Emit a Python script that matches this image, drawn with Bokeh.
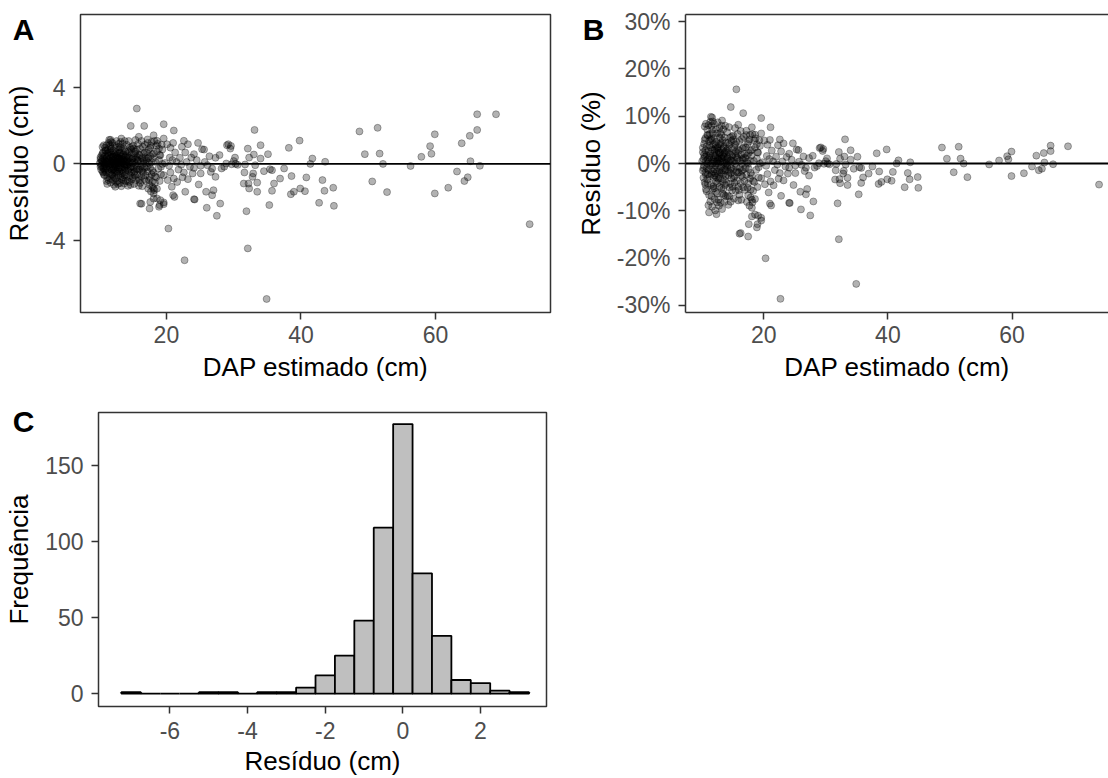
from bokeh.plotting import figure
from bokeh.models import Range1d, Span, LinearAxis, FixedTicker, CustomJSTickFormatter
from bokeh.layouts import column, row
from bokeh.embed import file_html
from bokeh.resources import INLINE

# ---------------- data ----------------
# dense cluster, DAP estimado (cm) and residual (cm)
dap_b1 = [10.1,10.2,10.2,10.3,10.3,10.4,10.4,10.5,10.5,10.5, 10.6,10.6,10.6,10.7,10.7,10.7,10.8,10.8,10.8,10.9,
          10.9,10.9,10.3,10.5,10.7,10.9,10.4,10.6,10.8,10.2]
res_b1 = [0.05,-0.15,0.25,0.10,-0.30,0.45,-0.05,0.89,0.15,-0.40, 0.30,-0.20,0.60,0.05,-0.55,0.98,0.20,-0.10,0.40,-0.35,
          0.70,0.00,-0.10,0.55,-0.25,0.85,0.20,-0.45,-0.60,0.35]
dap_b2 = [11.0,11.0,11.1,11.1,11.1,11.2,11.2,11.2,11.3,11.3, 11.3,11.4,11.4,11.4,11.5,11.5,11.5,11.6,11.6,11.6,
          11.7,11.7,11.7,11.8,11.8,11.8,11.9,11.9,11.9,11.0, 11.2,11.4,11.6,11.8,11.1,11.3,11.5,11.7,11.9,11.5,
          11.2,11.6,11.8,11.4,11.0]
res_b2 = [0.10,-0.45,0.98,0.30,-0.15,0.55,-0.70,0.05,0.75,-0.30, 0.20,1.10,-0.05,-0.85,0.40,-0.50,1.26,0.15,-0.25,0.65,
          0.00,-0.98,0.90,0.35,-0.60,1.15,0.10,-0.35,0.50,0.70, -1.05,0.25,-0.75,0.80,-0.90,0.45,-0.15,0.60,-0.55,0.02,
          0.15,1.00,-0.20,0.60,-0.25]
dap_b3 = [12.0,12.0,12.0,12.1,12.1,12.1,12.2,12.2,12.2,12.3, 12.3,12.3,12.4,12.4,12.4,12.5,12.5,12.5,12.6,12.6,
          12.6,12.7,12.7,12.7,12.8,12.8,12.8,12.9,12.9,12.9, 12.0,12.2,12.4,12.6,12.8,12.1,12.3,12.5,12.7,12.9,
          12.4,12.2,12.6,12.8,12.5,12.3,12.7,12.1,12.9,12.5]
res_b3 = [0.20,-0.60,1.10,0.05,-0.30,0.70,0.40,-1.10,-0.05,0.95, 0.15,-0.45,-1.20,0.30,0.60,-0.20,0.85,-0.75,0.10,-0.50,
          1.20,0.35,-0.90,0.00,0.55,-0.30,-1.05,0.25,0.75,-0.60, -0.15,0.20,-0.35,0.45,0.10,-0.85,0.50,0.05,-0.40,1.05,
          0.00,-0.25,-0.10,0.30,0.40,-0.70,0.15,0.35,-0.20,-0.95]
dap_b4 = [13.0,13.0,13.0,13.1,13.1,13.1,13.2,13.2,13.2,13.3, 13.3,13.3,13.4,13.4,13.4,13.5,13.5,13.5,13.6,13.6,
          13.6,13.7,13.7,13.7,13.8,13.8,13.8,13.9,13.9,13.9, 13.0,13.2,13.4,13.6,13.8,13.1,13.3,13.5,13.7,13.9,
          13.5,13.2,13.6,13.8,13.4]
res_b4 = [0.30,-0.40,0.90,-0.10,0.55,-1.00,0.15,-0.65,1.15,0.40, -0.20,-1.17,0.70,0.05,-0.50,1.05,-0.30,0.20,-0.85,0.50,
          0.00,0.80,-0.15,-1.03,0.35,-0.60,1.20,0.10,-0.35,0.65, 0.05,-0.25,0.25,-0.45,-0.05,0.60,0.15,-0.70,0.30,-0.90,
          0.45,0.85,0.20,-0.20,-0.80]
dap_b5 = [14.0,14.0,14.1,14.1,14.2,14.2,14.3,14.3,14.4,14.4, 14.5,14.5,14.6,14.6,14.7,14.7,14.8,14.8,14.9,14.9,
          14.0,14.2,14.4,14.6,14.8,14.1,14.3,14.5,14.7,14.9, 14.4,14.6,14.2,14.8,14.5]
res_b5 = [0.40,-0.55,1.00,-0.10,0.20,-0.90,0.65,-0.35,0.05,1.20, -0.70,0.30,-0.20,0.85,-1.10,0.10,0.50,-0.45,-0.80,0.25,
          0.00,0.45,-0.25,-0.60,0.75,0.15,-1.15,0.60,-0.30,0.90, 0.35,0.10,-0.05,-0.15,-0.95]
dap_b6 = [15.0,15.0,15.1,15.1,15.2,15.2,15.3,15.3,15.4,15.4, 15.5,15.5,15.6,15.6,15.7,15.7,15.8,15.8,15.9,15.9,
          15.0,15.2,15.4,15.6,15.8,15.1,15.3,15.5,15.7,15.9]
res_b6 = [0.30,-0.70,0.95,-0.20,0.10,-1.05,0.55,-0.40,1.25,0.00, -0.85,0.40,-0.10,0.75,-0.55,0.20,1.05,-0.30,-1.15,0.50,
          0.05,-0.45,0.65,-0.25,0.15,0.80,-0.60,0.25,0.35,-0.75]
dap_b7 = [16.0,16.0,16.1,16.1,16.2,16.3,16.3,16.4,16.4,16.5, 16.5,16.6,16.6,16.7,16.7,16.8,16.8,16.9,16.9,16.2,
          16.4,16.6,16.8,16.0,16.5]
res_b7 = [0.45,-0.30,-1.00,0.80,0.10,-0.65,1.20,0.30,-1.17,0.00, 0.90,-0.45,0.55,-0.80,0.20,1.00,-0.20,0.35,-0.60,-0.15,
          -0.40,0.15,0.60,-0.85,-0.25]
dap_b8 = [17.0,17.0,17.1,17.2,17.2,17.3,17.3,17.4,17.5,17.5, 17.6,17.6,17.7,17.7,17.8,17.8,17.9,17.9,17.1,17.4,
          17.6,17.8,17.3,17.5,17.9]
res_b8 = [0.20,-0.90,0.60,-0.40,1.10,-1.30,0.05,0.75,-0.70,-1.10, 0.40,-0.20,-1.45,0.95,0.10,-0.55,-1.20,0.50,-0.15,-0.85,
          0.85,1.15,0.30,0.00,-0.35]
dap_b9 = [18.0,18.1,18.2,18.3,18.4,18.5,18.6,18.7,18.8,18.9, 19.0,19.1,19.2,19.3,19.4,18.3,18.6,18.9,19.2,18.5]
res_b9 = [0.30,-0.45,1.20,-1.00,0.10,-0.70,0.65,1.05,-0.25,0.20, -0.90,0.45,-0.15,1.00,0.00,-0.65,-1.30,0.80,-0.55,0.95]

# scattered points
dap_s1 = [15.6,14.7,16.7,15.9,17.2,18.1,13.3,11.7,16.1,17.5, 18.1,18.9,19.6,19.1,18.1,18.1,17.9,17.6,16.3,19.0,
          18.6,19.6,18.2]
res_s1 = [2.90,1.99,1.99,1.42,1.28,1.50,1.33,1.26,-2.08,-2.34, -1.82,-2.25,-2.11,-1.90,-1.55,-1.29,-0.94,-2.00,-2.09,-2.16,
          -1.81,-2.02,-1.38]
dap_s2 = [19.6,21.1,19.6,18.6,20.1,21.0,22.6,23.2,24.7,25.3, 25.6,24.1,23.7,22.8,21.3,22.0,20.5,19.0,18.1,27.9,
          27.3,29.0,28.6,28.2,26.8,26.1,25.1,24.1,22.6,23.9, 25.1,26.6,27.3,24.8,20.6,21.1,19.6,20.8,21.0,22.8,
          24.1,25.9,27.0,26.8,28.0,26.0,27.5,20.3,22.7,21.2, 24.2]
res_s2 = [2.08,1.75,1.33,1.21,1.03,1.10,1.21,1.03,1.10,0.77, 0.75,0.51,0.33,0.60,0.60,0.32,0.33,0.46,0.54,0.46,
          0.32,0.98,-0.15,-0.24,-0.24,-0.07,-0.10,-0.21,-0.45,-0.50, -0.50,-0.42,-0.68,-1.08,-0.45,-0.77,-0.59,-1.20,-1.64,-1.46,
          -1.85,-1.46,-1.38,-1.64,-2.08,-2.30,-2.72,-3.39,-5.05,-1.73, -1.87]
dap_s3 = [19.8,20.4,21.5,22.2,23.0,23.5,21.8,20.9,22.4,23.2, 21.6,20.2,19.4,20.6,22.3,24.5,25.7,26.4]
res_s3 = [0.05,-0.10,0.10,-0.05,0.10,-0.15,-0.30,0.20,-0.70,-0.80, -0.95,-0.85,0.75,0.85,0.90,0.20,0.10,0.40]
dap_s4 = [33.1,29.2,29.6,29.5,32.1,34.0,35.1,32.3,30.2,33.0, 28.9,29.7,30.3,30.6,30.0,31.7,33.2,34.0,31.6,32.9,
          32.8,34.5,35.4,35.7,31.5,32.2,32.3,33.5,33.5,36.0, 35.7,36.9,37.5,38.2,39.8,38.6,38.5,38.95,39.9,40.6,
          40.8,41.7,41.4,43.2,43.5,42.7,43.6,35.3,31.9,32.1, 34.9]
res_s4 = [1.78,1.03,0.94,0.80,0.80,0.98,0.51,0.33,0.33,0.49, 0.02,-0.02,0.00,-0.05,0.15,-0.03,-0.07,0.28,-0.45,-0.50,
          -0.68,-0.38,-0.28,-0.33,-1.03,-1.03,-1.29,-0.98,-1.46,-1.03, -1.41,-0.77,-0.24,0.84,1.22,-0.64,-1.59,-1.46,-1.29,-1.43,
          -0.71,0.28,0.00,-0.85,-1.41,-2.04,0.11,-2.16,-2.48,-4.43, -7.08]
dap_s5 = [44.8,44.9,48.7,51.4,49.5,51.7,52.2,50.6,52.8,56.3, 57.9,59.4,59.2,59.9,59.9,61.9,63.2,63.9,65.1,66.2,
          66.2,69.0,65.2,66.6,64.3,64.8,74.0]
res_s5 = [-1.25,-2.20,1.70,1.89,0.51,0.54,0.00,-0.92,-1.48,-0.11, 0.37,0.53,0.93,1.55,-1.55,-1.25,-0.40,1.08,1.47,1.78,
          2.60,2.60,0.14,-0.10,-0.90,-0.70,-3.16]

# histogram of residuals (bin centres, counts)
hist_centre = [-7.0,-6.5,-6.0,-5.5,-5.0,-4.5,-4.0,-3.5,-3.0,-2.5,-2.0,-1.5,-1.0,-0.5,0.0,0.5,1.0,1.5,2.0,2.5,3.0]
hist_count = [1, 0, 0, 0, 1, 1, 0, 1, 1, 4, 12, 25, 48, 109, 177, 79, 38, 9, 7, 2, 1]

panel_tags = ["A", "B", "C"]

dap = (dap_b1 + dap_b2 + dap_b3 + dap_b4 + dap_b5 + dap_b6 + dap_b7 + dap_b8 + dap_b9
       + dap_s1 + dap_s2 + dap_s3 + dap_s4 + dap_s5)
res = (res_b1 + res_b2 + res_b3 + res_b4 + res_b5 + res_b6 + res_b7 + res_b8 + res_b9
       + res_s1 + res_s2 + res_s3 + res_s4 + res_s5)
# relative residual (% of observed DAP)
res_pct = [r / (d + r) * 100.0 for d, r in zip(dap, res)]

# ---------------- styling ----------------
FONT = "Liberation Sans"
TICK_FS = "23px"
TITLE_FS = "26px"
GREY = "#333333"


def style_axis(ax, line=False):
    ax.axis_line_color = GREY if line else None
    ax.axis_line_width = 1.5
    ax.major_tick_line_color = GREY
    ax.major_tick_line_width = 1.5
    ax.major_tick_out = 7
    ax.major_tick_in = 0
    ax.minor_tick_line_color = None
    ax.major_label_text_font = FONT
    ax.major_label_text_font_size = TICK_FS
    ax.major_label_text_color = "#4D4D4D"
    ax.axis_label_text_font = FONT
    ax.axis_label_text_font_size = TITLE_FS
    ax.axis_label_text_font_style = "normal"
    ax.axis_label_text_color = "black"


def make_fig(w, h, frame, xr, yr, xticks, yticks, xfmt, yfmt, xlabel, ylabel,
             outline=True, x_std=(6, 6)):
    l, r, t, b = frame
    p = figure(width=w, height=h, x_range=Range1d(*xr), y_range=Range1d(*yr),
               output_backend="svg", toolbar_location=None,
               min_border_left=l, min_border_right=w - r,
               min_border_top=t, min_border_bottom=h - b)
    p.xgrid.visible = False
    p.ygrid.visible = False
    p.background_fill_color = "white"
    p.border_fill_color = "white"
    p.outline_line_color = GREY if outline else None
    p.outline_line_width = 1.5
    xa = p.below[0]
    ya = p.left[0]
    style_axis(xa, line=not outline)
    style_axis(ya, line=not outline)
    xa.ticker = FixedTicker(ticks=xticks)
    ya.ticker = FixedTicker(ticks=yticks)
    xa.formatter = xfmt
    ya.formatter = yfmt
    xa.axis_label = xlabel
    ya.axis_label = ylabel
    xa.major_label_standoff = x_std[0]
    xa.axis_label_standoff = x_std[1]
    ya.major_label_standoff = 8
    ya.axis_label_standoff = 8
    return p


def add_tag(p, text, y_pos, standoff):
    # panel tag drawn as the only label of an extra, line-less axis at the far left
    ax = LinearAxis(ticker=FixedTicker(ticks=[y_pos]),
                    formatter=CustomJSTickFormatter(code="return '%s';" % text),
                    axis_line_color=None, major_tick_line_color=None,
                    major_tick_out=0, major_tick_in=0, minor_tick_line_color=None,
                    major_label_standoff=standoff,
                    major_label_text_font=FONT, major_label_text_font_size="30px",
                    major_label_text_font_style="bold", major_label_text_color="black")
    p.add_layout(ax, "left")


int_fmt = CustomJSTickFormatter(code="return tick.toFixed(0);")
pct_fmt = CustomJSTickFormatter(code="return tick.toFixed(0) + '%';")

# ---- Panel A ----  (frame in figure pixels: left, right, top, bottom)
pA = make_fig(572, 390, (80, 550, 14, 312), (7.23, 77.1), (-7.79, 7.83),
              [20, 40, 60], [-4, 0, 4], int_fmt, int_fmt,
              "DAP estimado (cm)", "Resíduo (cm)")
pA.scatter(dap, res, size=7, fill_color="black", fill_alpha=0.3,
           line_color="black", line_alpha=0.3, line_width=1)
pA.add_layout(Span(location=0, dimension="width", line_color="black", line_width=1.8))
add_tag(pA, panel_tags[0], 7.04, -33)

# ---- Panel B ----
pB = make_fig(536, 390, (110, 536, 14, 312), (7.41, 75.52), (-31.5, 31.5),
              [20, 40, 60], [-30, -20, -10, 0, 10, 20, 30], int_fmt, pct_fmt,
              "DAP estimado (cm)", "Resíduo (%)", outline=False)
pB.scatter(dap, res_pct, size=7, fill_color="black", fill_alpha=0.3,
           line_color="black", line_alpha=0.3, line_width=1)
pB.add_layout(Span(location=0, dimension="width", line_color="black", line_width=1.8))
top_axis = LinearAxis(ticker=FixedTicker(ticks=[]), major_tick_out=0, major_tick_in=0,
                      minor_tick_out=0, minor_tick_in=0, minor_tick_line_color=None,
                      major_tick_line_color=None,
                      axis_line_color=GREY, axis_line_width=1.5)
pB.add_layout(top_axis, "above")
add_tag(pB, panel_tags[1], 28.35, -32)

# ---- Panel C ----
pC = make_fig(560, 388, (98, 546, 22, 319), (-7.84, 3.70), (-8.4, 184.6),
              [-6, -4, -2, 0, 2], [0, 50, 100, 150], int_fmt, int_fmt,
              "Resíduo (cm)", "Frequência", x_std=(8, 4))
pC.vbar(x=hist_centre, top=hist_count, bottom=0, width=0.5,
        fill_color="#BFBFBF", line_color="black", line_width=1.8)
add_tag(pC, panel_tags[2], 178.9, -33)

layout = column(row(pA, pB), pC)
open("out.html", "w").write(file_html(layout, INLINE))
